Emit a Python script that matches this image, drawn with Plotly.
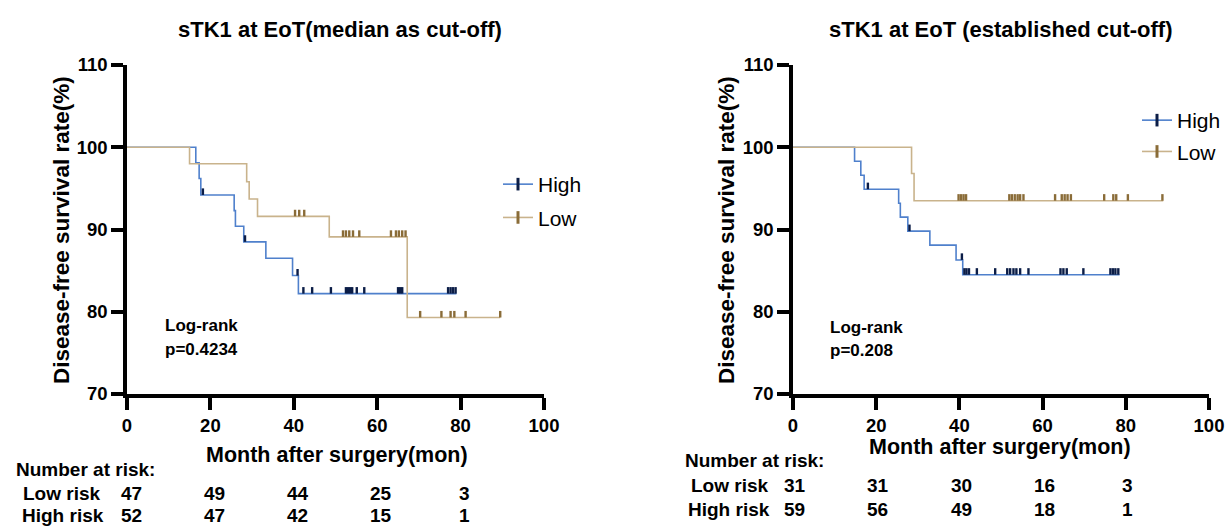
import plotly.graph_objects as go

FONT = "Liberation Sans, Arial, Helvetica, sans-serif"
W, H = 1229, 528

# ---------------- data: left panel (median as cut-off) ----------------
L_high_t = [0, 16.5, 17.3, 17.7, 25.7, 26.0, 28.0, 33.3, 39.7, 41.1]
L_high_s = [100, 98.1, 96.2, 94.2, 92.3, 90.4, 88.5, 86.5, 84.4, 82.2]
L_high_end = 79.0
L_high_cens = [18.2, 28.3, 40.9, 42.3, 44.4, 48.9, 52.5, 53.0, 53.5, 54.0,
               55.1, 56.9, 65.0, 65.5, 66.0, 77.0, 77.6, 78.2, 78.8]

L_low_t = [0, 15.0, 28.7, 29.3, 31.3, 48.5, 67.2]
L_low_s = [100, 98.0, 95.8, 93.7, 91.6, 89.1, 79.3]
L_low_end = 89.5
L_low_cens = [40.3, 41.3, 42.5, 51.8, 52.5, 53.3, 54.2, 55.7, 63.3, 64.5,
              65.2, 66.0, 66.8, 70.3, 75.4, 77.6, 78.5, 81.2, 89.5]

# ---------------- data: right panel (established cut-off) ----------------
R_high_t = [0, 14.8, 16.3, 17.1, 25.4, 25.8, 27.6, 32.9, 39.2, 40.8]
R_high_s = [100, 98.3, 96.6, 94.9, 93.2, 91.5, 89.8, 88.1, 86.3, 84.5]
R_high_end = 78.5
R_high_cens = [18.0, 28.0, 40.6, 41.2, 41.7, 42.3, 44.2, 48.6, 51.5, 52.2,
               53.0, 53.7, 54.6, 56.6, 64.3, 65.0, 65.8, 69.8, 76.3, 76.9,
               77.5, 78.2]

R_low_t = [0, 28.5, 29.1]
R_low_s = [100, 96.8, 93.5]
R_low_end = 89.0
R_low_cens = [39.8, 40.4, 41.0, 41.6, 52.0, 52.6, 53.3, 54.0, 54.6, 55.4,
              63.0, 64.6, 65.3, 66.0, 66.8, 74.8, 77.0, 77.7, 80.5, 88.8]

risk_times = [0, 20, 40, 60, 80]
L_risk_low = [47, 49, 44, 25, 3]
L_risk_high = [52, 47, 42, 15, 1]
R_risk_low = [31, 31, 30, 16, 3]
R_risk_high = [59, 56, 49, 18, 1]

x_ticks = [0, 20, 40, 60, 80, 100]
y_ticks = [70, 80, 90, 100, 110]

BLUE = "#4f80cc"
NAVY = "#0b1d47"
TAN = "#c9b38c"
BROWN = "#8a6c38"


def px(x):
    """picture pixel x -> paper fraction"""
    return x / W


def py(y):
    """picture pixel y -> paper fraction"""
    return 1 - y / H


def step_at(times, surv, t):
    v = surv[0]
    for ti, si in zip(times, surv):
        if ti <= t:
            v = si
    return v


fig = go.Figure()


def add_curve(times, surv, end, cens, line_col, mark_col, xa, ya):
    fig.add_trace(go.Scatter(
        x=times + [end], y=surv + [surv[-1]], mode="lines", line_shape="hv",
        line=dict(color=line_col, width=1.6), showlegend=False,
        xaxis=xa, yaxis=ya, hoverinfo="skip"))
    cy = [step_at(times, surv, c) for c in cens]
    fig.add_trace(go.Scatter(
        x=cens, y=cy, mode="markers",
        marker=dict(size=1, color="rgba(0,0,0,0)"),
        error_y=dict(type="data", symmetric=False, array=[0.8] * len(cens),
                     arrayminus=[0] * len(cens), color=mark_col,
                     thickness=2.4, width=0),
        showlegend=False, xaxis=xa, yaxis=ya, hoverinfo="skip"))


add_curve(L_high_t, L_high_s, L_high_end, L_high_cens, BLUE, NAVY, "x", "y")
add_curve(L_low_t, L_low_s, L_low_end, L_low_cens, TAN, BROWN, "x", "y")
add_curve(R_high_t, R_high_s, R_high_end, R_high_cens, BLUE, NAVY, "x2", "y2")
add_curve(R_low_t, R_low_s, R_low_end, R_low_cens, TAN, BROWN, "x2", "y2")

# legend entries
for name, lc, mc, xa, ya, lg in [("High", BLUE, NAVY, "x", "y", "legend"),
                                 ("Low", TAN, BROWN, "x", "y", "legend"),
                                 ("High", BLUE, NAVY, "x2", "y2", "legend2"),
                                 ("Low", TAN, BROWN, "x2", "y2", "legend2")]:
    fig.add_trace(go.Scatter(
        x=[None], y=[None], mode="lines+markers", name=name,
        line=dict(color=lc, width=1.6),
        marker=dict(symbol="line-ns", size=9, line=dict(color=mc, width=3)),
        xaxis=xa, yaxis=ya, legend=lg, legendgroup=lg + name))

ydom = [py(394), py(65)]
axis_common = dict(showline=True, linecolor="black", linewidth=3.5,
                   ticks="outside", ticklen=12, tickwidth=3.5, tickcolor="black",
                   showgrid=False, zeroline=False, automargin=False,
                   tickfont=dict(family=FONT, size=18.5, color="black", weight="bold"))

fig.update_layout(
    width=W, height=H, margin=dict(l=0, r=0, t=0, b=0, autoexpand=False),
    paper_bgcolor="white", plot_bgcolor="white",
    xaxis=dict(domain=[px(127), px(544)], range=[0, 100], tickvals=x_ticks,
               anchor="y", **axis_common),
    yaxis=dict(domain=ydom, range=[70, 110], tickvals=y_ticks, anchor="x",
               **axis_common),
    xaxis2=dict(domain=[px(793), px(1209)], range=[0, 100], tickvals=x_ticks,
                anchor="y2", **axis_common),
    yaxis2=dict(domain=ydom, range=[70, 110], tickvals=y_ticks, anchor="x2",
                **axis_common),
    legend=dict(x=px(498), y=py(164), xanchor="left", yanchor="top",
                font=dict(family=FONT, size=21, color="black"),
                bgcolor="rgba(0,0,0,0)", tracegroupgap=3, itemwidth=30),
    legend2=dict(x=px(1137), y=py(100), xanchor="left", yanchor="top",
                 font=dict(family=FONT, size=21, color="black"),
                 bgcolor="rgba(0,0,0,0)", tracegroupgap=1, itemwidth=30),
)


def ann(text, x, y, size, xref="paper", yref="paper", xanchor="center",
        yanchor="middle", angle=0, bold=True):
    fig.add_annotation(text=text, x=x, y=y, xref=xref, yref=yref,
                       xanchor=xanchor, yanchor=yanchor, showarrow=False,
                       textangle=angle,
                       font=dict(family=FONT, size=size, color="black",
                                 weight="bold" if bold else "normal"))


# titles
ann("sTK1 at EoT(median as cut-off)", px(340), py(29), 22)
ann("sTK1 at EoT (established cut-off)", px(1000), py(29), 22)
# y-axis titles
ann("Disease-free survival rate(%)", px(62), py(230), 22.5, angle=-90)
ann("Disease-free survival rate(%)", px(727), py(230), 22.5, angle=-90)
# x-axis titles
ann("Month after surgery(mon)", px(337), py(455), 21.5)
ann("Month after surgery(mon)", px(1000), py(447), 21.5)
# log-rank
ann("Log-rank", px(163), py(325), 17, xanchor="left")
ann("p=0.4234", px(163), py(349), 17, xanchor="left")
ann("Log-rank", px(828), py(327), 17, xanchor="left")
ann("p=0.208", px(828), py(350), 17, xanchor="left")

# number at risk tables
ann("Number at risk:", px(14), py(469), 19, xanchor="left")
ann("Low risk", px(21), py(493), 19, xanchor="left")
ann("High risk", px(20), py(515), 19, xanchor="left")
for t, lo, hi in zip(risk_times, L_risk_low, L_risk_high):
    ann(str(lo), t + 1, py(493), 19, xref="x")
    ann(str(hi), t + 1, py(515), 19, xref="x")

ann("Number at risk:", px(683), py(460), 19, xanchor="left")
ann("Low risk", px(689), py(485), 19, xanchor="left")
ann("High risk", px(686), py(509), 19, xanchor="left")
for t, lo, hi in zip(risk_times, R_risk_low, R_risk_high):
    ann(str(lo), t + 0.4, py(485), 19, xref="x2")
    ann(str(hi), t + 0.4, py(509), 19, xref="x2")

fig.write_html("out.html", config={"displayModeBar": False},
               post_script="document.body.style.margin='0';")
